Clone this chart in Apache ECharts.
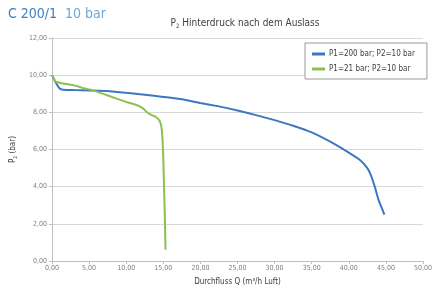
<!DOCTYPE html>
<html>
<head>
<meta charset="utf-8">
<script src="https://cdn.jsdelivr.net/npm/echarts@6/dist/echarts.min.js"></script>
<style>
  html, body { margin: 0; padding: 0; background: #fff; }
  #chart { width: 435px; height: 294px; }
</style>
</head>
<body>
<div id="chart"></div>
<script>
// Durchfluss Q (m³/h Luft) / P2 (bar)
var flowHigh = [0, 0.5, 1, 1.5, 3, 5, 7.5, 10, 12.5, 15, 17.5, 20, 22.5, 25, 27.5, 30, 32.5, 35, 37.5, 40, 41.5, 42.5, 43, 43.5, 44, 44.8]
var p2High = [10, 9.6, 9.3, 9.22, 9.2, 9.18, 9.15, 9.05, 8.95, 8.83, 8.7, 8.5, 8.32, 8.1, 7.85, 7.58, 7.28, 6.92, 6.42, 5.83, 5.43, 5.0, 4.6, 4.0, 3.3, 2.5]

var flowLow = [0, 0.5, 1.5, 3, 4, 5.5, 7, 8.6, 10, 11.5, 12.3, 12.8, 13.3, 14, 14.5, 14.75, 14.9, 15.0, 15.1, 15.2, 15.3]
var p2Low = [10, 9.65, 9.55, 9.45, 9.33, 9.18, 8.98, 8.75, 8.56, 8.38, 8.2, 8.0, 7.88, 7.75, 7.55, 7.2, 6.5, 5.5, 4.0, 2.5, 0.6]

var seriesNames = ['P1=200 bar; P2=10 bar', 'P1=21 bar; P2=10 bar']

function pairs(xs, ys) {
  return xs.map(function(x, i) { return [x, ys[i]] })
}

var font = '"Liberation Sans Narrow", "DejaVu Sans Condensed", sans-serif'
var chart = echarts.init(document.getElementById('chart'))

var option = {
  animation: false,
  textStyle: { fontFamily: font },
  title: [
    {
      // Typ + Nenndruck oben links
      text: '{a|C 200/1}{b|10 bar}',
      left: 3,
      top: 2,
      textStyle: {
        fontWeight: 'normal',
        rich: {
          a: { fontSize: 14, color: '#3c7fc2', fontFamily: font, fontWeight: 'normal', padding: [0, 8, 0, 0] },
          b: { fontSize: 14, color: '#6ea8da', fontFamily: font, fontWeight: 'normal' }
        }
      }
    },
    {
      text: '{t|P}{s|2}{t| Hinterdruck nach dem Auslass}',
      left: 240,
      top: 12,
      textAlign: 'center',
      textStyle: {
        fontWeight: 'normal',
        rich: {
          t: { fontSize: 10, color: '#404040', fontFamily: font, fontWeight: 'normal' },
          s: { fontSize: 6, color: '#404040', fontFamily: font, fontWeight: 'normal', padding: [6, 0, 0, 0] }
        }
      }
    }
  ],
  legend: {
    orient: 'vertical',
    left: 305,
    top: 43,
    padding: [7, 12, 6, 7],
    itemGap: 7,
    itemWidth: 13,
    itemHeight: 3,
    borderColor: '#9a9a9a',
    borderWidth: 1,
    backgroundColor: '#fff',
    textStyle: { fontSize: 8, color: '#404040', fontFamily: font, padding: [0, 0, 0, -1] },
    data: [
      { name: seriesNames[0], icon: 'rect', itemStyle: { color: '#3c78c1' } },
      { name: seriesNames[1], icon: 'rect', itemStyle: { color: '#8cc152' } }
    ]
  },
  grid: { left: 52, right: 8, top: 38, bottom: 33 },
  xAxis: {
    type: 'value',
    min: 0,
    max: 50,
    interval: 5,
    name: 'Durchfluss Q (m³/h Luft)',
    nameLocation: 'middle',
    nameGap: 17,
    nameTextStyle: { fontSize: 8, color: '#404040' },
    axisLine: { lineStyle: { color: '#bfbfbf' } },
    axisTick: { show: true, length: 3, lineStyle: { color: '#bfbfbf' } },
    axisLabel: {
      fontSize: 7,
      color: '#7f7f7f',
      margin: 4,
      formatter: function(v) { return v.toFixed(2).replace('.', ',') }
    },
    splitLine: { show: false }
  },
  yAxis: {
    type: 'value',
    min: 0,
    max: 12,
    interval: 2,
    name: '{t|P}{s|2}{t| (bar)}',
    nameLocation: 'middle',
    nameRotate: 90,
    nameGap: 30,
    nameTextStyle: {
      rich: {
        t: { fontSize: 8, color: '#404040', fontFamily: font },
        s: { fontSize: 5, color: '#404040', fontFamily: font, padding: [5, 0, 0, 0] }
      }
    },
    axisLine: { show: true, lineStyle: { color: '#bfbfbf' } },
    axisTick: { show: true, length: 3, lineStyle: { color: '#bfbfbf' } },
    axisLabel: {
      fontSize: 7,
      color: '#7f7f7f',
      margin: 5,
      formatter: function(v) { return v.toFixed(2).replace('.', ',') }
    },
    splitLine: { lineStyle: { color: '#d9d9d9' } }
  },
  series: [
    {
      name: seriesNames[0],
      type: 'line',
      data: pairs(flowHigh, p2High),
      smooth: 0.15,
      showSymbol: false,
      color: '#3c78c1',
      lineStyle: { width: 2, color: '#3c78c1' }
    },
    {
      name: seriesNames[1],
      type: 'line',
      data: pairs(flowLow, p2Low),
      smooth: 0.15,
      showSymbol: false,
      color: '#8cc152',
      lineStyle: { width: 2, color: '#8cc152' }
    }
  ]
}

chart.setOption(option)
</script>
</body>
</html>
